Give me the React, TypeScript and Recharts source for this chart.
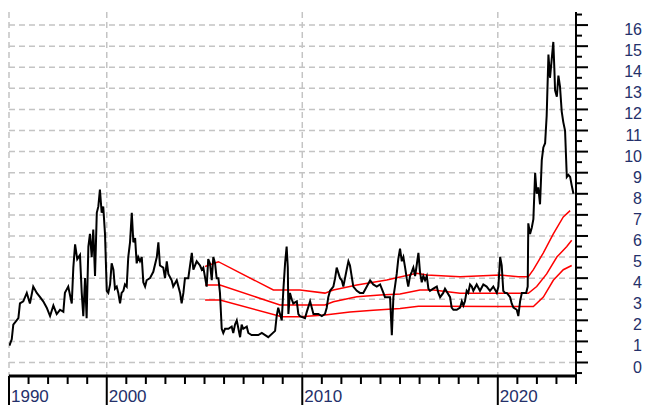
import React from "react";
import { LineChart, Line, XAxis, YAxis, CartesianGrid } from "recharts";

// Price series (black) – x in fractional years, y in price units
const priceYears = [
  1995.02, 1995.14, 1995.22, 1995.31, 1995.48, 1995.56, 1995.73, 1995.91, 1996.07, 1996.24,
  1996.42, 1996.59, 1996.75, 1996.93, 1997.1, 1997.27, 1997.44, 1997.61, 1997.78, 1997.86,
  1998.03, 1998.21, 1998.29, 1998.38, 1998.49, 1998.63, 1998.72, 1998.8, 1998.89, 1998.97,
  1999.06, 1999.14, 1999.23, 1999.31, 1999.4, 1999.49, 1999.57, 1999.65, 1999.74, 1999.82,
  1999.91, 2000.0, 2000.08, 2000.17, 2000.25, 2000.34, 2000.42, 2000.51, 2000.59, 2000.68,
  2000.76, 2000.85, 2000.93, 2001.02, 2001.1, 2001.19, 2001.28, 2001.36, 2001.45, 2001.53,
  2001.61, 2001.7, 2001.79, 2001.87, 2001.96, 2002.04, 2002.21, 2002.38, 2002.56, 2002.64,
  2002.72, 2002.89, 2002.98, 2003.07, 2003.15, 2003.32, 2003.4, 2003.58, 2003.75, 2003.83,
  2003.92, 2004.0, 2004.17, 2004.35, 2004.43, 2004.6, 2004.77, 2004.86, 2004.94, 2005.11,
  2005.19, 2005.28, 2005.37, 2005.45, 2005.54, 2005.62, 2005.71, 2005.79, 2005.88, 2005.96,
  2006.05, 2006.22, 2006.39, 2006.47, 2006.56, 2006.65, 2006.82, 2006.9, 2006.98, 2007.16,
  2007.24, 2007.41, 2007.75, 2007.93, 2008.26, 2008.61, 2008.69, 2008.77, 2008.86, 2008.95,
  2009.03, 2009.12, 2009.2, 2009.26, 2009.29, 2009.37, 2009.46, 2009.54, 2009.72, 2009.8,
  2009.88, 2010.14, 2010.23, 2010.4, 2010.57, 2010.82, 2011.0, 2011.16, 2011.25, 2011.33,
  2011.42, 2011.59, 2011.68, 2011.76, 2011.93, 2012.02, 2012.1, 2012.27, 2012.36, 2012.44,
  2012.61, 2012.79, 2012.95, 2013.12, 2013.3, 2013.47, 2013.63, 2013.81, 2013.98, 2014.15,
  2014.23, 2014.49, 2014.58, 2014.66, 2014.74, 2014.83, 2014.91, 2015.0, 2015.09, 2015.17,
  2015.26, 2015.34, 2015.42, 2015.51, 2015.6, 2015.68, 2015.77, 2015.85, 2015.94, 2016.02,
  2016.11, 2016.19, 2016.28, 2016.37, 2016.45, 2016.53, 2016.7, 2016.88, 2016.96, 2017.05,
  2017.21, 2017.3, 2017.56, 2017.64, 2017.73, 2017.9, 2018.07, 2018.16, 2018.24, 2018.32,
  2018.41, 2018.49, 2018.58, 2018.67, 2018.75, 2018.92, 2019.09, 2019.26, 2019.43, 2019.6,
  2019.77, 2019.95, 2020.03, 2020.12, 2020.2, 2020.28, 2020.37, 2020.46, 2020.63, 2020.71,
  2020.8, 2020.97, 2021.05, 2021.14, 2021.23, 2021.31, 2021.45, 2021.53, 2021.56, 2021.65,
  2021.74, 2021.82, 2021.91, 2021.99, 2022.07, 2022.16, 2022.25, 2022.33, 2022.42, 2022.5,
  2022.59, 2022.67, 2022.76, 2022.84, 2022.89, 2022.93, 2023.02, 2023.1, 2023.18, 2023.27,
  2023.35, 2023.44, 2023.53, 2023.61, 2023.7, 2023.78, 2023.87,
];
const priceValues = [
  0.8, 1.1, 1.8, 1.9, 2.1, 2.8, 2.9, 3.3, 2.8, 3.6,
  3.3, 3.1, 2.9, 2.6, 2.2, 2.7, 2.3, 2.5, 2.4, 3.3,
  3.6, 2.8, 4.5, 5.6, 4.9, 5.1, 3.3, 2.2, 4.0, 2.1,
  5.5, 6.1, 5.0, 6.3, 4.1, 7.1, 7.4, 8.2, 7.1, 7.4,
  6.1, 3.4, 3.3, 3.7, 4.7, 4.4, 3.5, 3.6, 3.3, 2.8,
  3.3, 3.4, 3.7, 3.6, 5.0, 5.7, 7.1, 5.7, 5.9, 4.7,
  5.0, 4.8, 5.0, 3.8, 3.6, 3.9, 4.0, 4.3, 5.0, 5.7,
  4.6, 4.5, 4.0, 4.8, 4.2, 3.9, 3.6, 3.9, 3.3, 2.8,
  3.3, 4.0, 4.0, 5.2, 4.4, 4.8, 4.6, 4.4, 4.5, 3.6,
  4.9, 4.7, 3.9, 5.0, 4.7, 4.0, 4.0, 3.3, 1.6, 1.4,
  1.6, 1.6, 1.7, 1.4, 1.8, 2.0, 1.2, 1.8, 1.6, 1.7,
  1.4, 1.3, 1.3, 1.4, 1.2, 1.5, 2.2, 2.6, 2.3, 2.0,
  3.4, 4.7, 5.5, 4.5, 2.3, 3.3, 3.0, 2.8, 2.9, 2.3,
  2.2, 2.1, 2.4, 2.9, 2.3, 2.3, 2.2, 2.3, 2.6, 3.1,
  3.4, 3.6, 4.0, 4.5, 4.0, 3.9, 3.6, 4.4, 4.8, 4.6,
  3.6, 3.4, 3.3, 3.3, 3.6, 3.9, 3.7, 3.6, 3.7, 3.3,
  3.1, 3.1, 1.3, 3.1, 3.6, 4.2, 4.9, 5.4, 4.8, 5.0,
  4.5, 4.0, 3.6, 4.1, 4.3, 4.5, 4.1, 4.6, 5.2, 4.3,
  3.8, 4.1, 3.9, 4.1, 3.5, 3.4, 3.5, 3.6, 3.3, 3.1,
  3.3, 3.5, 3.1, 2.6, 2.5, 2.5, 2.6, 2.9, 2.7, 2.9,
  3.4, 3.3, 3.7, 3.6, 3.4, 3.7, 3.4, 3.7, 3.6, 3.4,
  3.6, 3.3, 3.6, 5.0, 4.6, 3.4, 3.3, 3.3, 3.1, 2.8,
  2.6, 2.5, 2.2, 2.9, 3.3, 3.3, 3.3, 3.6, 6.6, 6.1,
  6.4, 6.8, 9.0, 8.0, 8.3, 7.5, 9.6, 10.2, 10.4, 11.7,
  14.6, 13.5, 14.4, 15.2, 14.0, 12.9, 12.6, 13.6, 13.1, 11.9,
  11.4, 11.0, 8.8, 8.9, 8.8, 8.4, 8.0,
];

// Red band lines
const upperYears = [2005.03, 2005.71, 2008.52, 2009.88, 2011.16, 2011.59, 2012.79, 2014.32, 2015.85, 2016.37, 2018.07, 2020.12, 2021.05, 2021.56, 2021.82, 2022.33, 2022.84, 2023.35, 2023.7];
const upperValues = [4.55, 4.78, 3.44, 3.44, 3.29, 3.44, 3.67, 3.91, 4.23, 4.15, 4.07, 4.15, 4.07, 4.07, 4.4, 5.2, 6.1, 6.9, 7.2];
const middleYears = [2005.03, 2005.79, 2008.86, 2011.16, 2011.59, 2012.79, 2013.98, 2015.0, 2016.02, 2016.7, 2018.07, 2021.56, 2021.99, 2022.5, 2023.02, 2023.53, 2023.78];
const middleValues = [3.67, 3.67, 2.73, 2.73, 2.88, 3.12, 3.2, 3.25, 3.44, 3.44, 3.28, 3.28, 3.6, 4.2, 5.0, 5.5, 5.8];
const lowerYears = [2005.03, 2005.79, 2008.95, 2009.88, 2011.16, 2012.44, 2013.63, 2015.0, 2015.94, 2016.7, 2020.12, 2021.82, 2022.33, 2022.84, 2023.35, 2023.78];
const lowerValues = [2.96, 2.96, 2.17, 2.17, 2.25, 2.4, 2.48, 2.56, 2.67, 2.67, 2.65, 2.65, 3.1, 3.9, 4.4, 4.6];

// Axes
const xTickYears = [
  1995, 1996, 1997, 1998, 1999, 2000, 2001, 2002, 2003, 2004, 2005, 2006, 2007, 2008, 2009,
  2010, 2011, 2012, 2013, 2014, 2015, 2016, 2017, 2018, 2019, 2020, 2021, 2022, 2023, 2024,
];
const xLabelYears = [1995, 2000, 2010, 2020];
const xLabelTexts = ["1990", "2000", "2010", "2020"];
const yTicks = [
  -0.5, 0, 0.5, 1, 1.5, 2, 2.5, 3, 3.5, 4, 4.5, 5, 5.5, 6, 6.5, 7, 7.5, 8, 8.5,
  9, 9.5, 10, 10.5, 11, 11.5, 12, 12.5, 13, 13.5, 14, 14.5, 15, 15.5, 16, 16.5,
];
const yGridValues = [0, 1, 2, 3, 4, 5, 6, 7, 8, 9, 10, 11, 12, 13, 14, 15, 16];

const FONT = "'Liberation Sans', Arial, sans-serif";
const LABEL_COLOR = "#24306a";

const toPoints = (xs: number[], ys: number[]) => xs.map((x, i) => ({ year: x, value: ys[i] }));

function XTick(props: any) {
  const { x, y, payload } = props;
  const idx = xLabelYears.indexOf(payload.value);
  const major = idx >= 0;
  return (
    <g>
      <line x1={x} x2={x} y1={y} y2={major ? y + 30 : y + 8} stroke="#000" strokeWidth={2} />
      {major && (
        <text x={x + 2} y={y + 26} fontSize={17} fill={LABEL_COLOR} fontFamily={FONT}>
          {xLabelTexts[idx]}
        </text>
      )}
    </g>
  );
}

function YTick(props: any) {
  const { x, y, payload } = props;
  const v = payload.value as number;
  const major = Number.isInteger(v);
  return (
    <g>
      <line x1={x} x2={x + (major ? 12 : 6)} y1={y} y2={y} stroke="#000" strokeWidth={2} />
      {major && (
        <text x={x + 66} y={y + 10} textAnchor="end" fontSize={16} fill={LABEL_COLOR} fontFamily={FONT}>
          {v}
        </text>
      )}
    </g>
  );
}

export default function App() {
  const price = toPoints(priceYears, priceValues);
  const upper = toPoints(upperYears, upperValues);
  const middle = toPoints(middleYears, middleValues);
  const lower = toPoints(lowerYears, lowerValues);

  return (
    <div style={{ position: "absolute", left: 0, top: 0, width: 647, height: 405, background: "#fff", overflow: "hidden" }}>
      <LineChart width={647} height={405} margin={{ top: 12, right: 0, bottom: 0, left: 9 }}>
        <CartesianGrid
          stroke="#c4c4c4"
          strokeWidth={1.5}
          strokeDasharray="6 4"
          horizontalValues={yGridValues}
          verticalValues={xLabelYears}
        />
        <XAxis
          type="number"
          dataKey="year"
          domain={[1995, 2024]}
          ticks={xTickYears}
          interval={0}
          allowDataOverflow
          height={29}
          tickSize={0}
          tickMargin={0}
          tickLine={false}
          axisLine={{ stroke: "#000", strokeWidth: 3 }}
          tick={<XTick />}
        />
        <YAxis
          orientation="right"
          type="number"
          dataKey="value"
          domain={[-0.64, 16.62]}
          ticks={yTicks}
          interval={0}
          allowDataOverflow
          width={71}
          tickSize={0}
          tickMargin={0}
          tickLine={false}
          axisLine={{ stroke: "#000", strokeWidth: 2 }}
          tick={<YTick />}
        />
        <Line data={upper} dataKey="value" type="linear" stroke="#ff0000" strokeWidth={1.5} dot={false} isAnimationActive={false} />
        <Line data={middle} dataKey="value" type="linear" stroke="#ff0000" strokeWidth={1.5} dot={false} isAnimationActive={false} />
        <Line data={lower} dataKey="value" type="linear" stroke="#ff0000" strokeWidth={1.5} dot={false} isAnimationActive={false} />
        <Line data={price} dataKey="value" type="linear" stroke="#000" strokeWidth={2} dot={false} isAnimationActive={false} />
      </LineChart>
    </div>
  );
}
